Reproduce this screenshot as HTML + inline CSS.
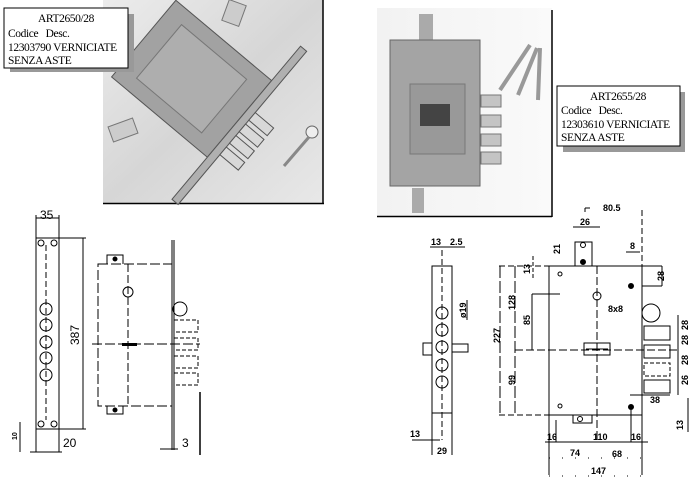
<!DOCTYPE html>
<html><head><meta charset="utf-8"><style>
html,body{margin:0;padding:0;background:#fff;width:699px;height:484px;overflow:hidden}
svg{display:block}
.b{font-family:"Liberation Serif",serif;font-size:11.5px;letter-spacing:-0.4px;fill:#000}
.d{font-family:"Liberation Sans",sans-serif;font-size:9px;font-weight:bold;fill:#000}
.D{font-family:"Liberation Sans",sans-serif;font-size:12px;fill:#000}
</style></head><body>
<svg width="699" height="484" viewBox="0 0 699 484" xmlns="http://www.w3.org/2000/svg">
<defs>
<linearGradient id="g1" x1="0" y1="0" x2="1" y2="1"><stop offset="0" stop-color="#ececec"/><stop offset="0.5" stop-color="#d6d6d6"/><stop offset="1" stop-color="#e8e8e8"/></linearGradient>
<linearGradient id="g2" x1="0" y1="0" x2="1" y2="0"><stop offset="0" stop-color="#f2f2f2"/><stop offset="1" stop-color="#fafafa"/></linearGradient>
</defs>
<!-- left photo -->
<rect x="103" y="0" width="220" height="203" fill="url(#g1)"/>
<line x1="323" y1="0" x2="323" y2="204" stroke="#000" stroke-width="1.5"/>
<line x1="103" y1="203.5" x2="324" y2="203.5" stroke="#000" stroke-width="1.5"/>
<rect x="225" y="2" width="18" height="22" fill="#ccc" stroke="#777" transform="rotate(20 234 13)"/>
<rect x="110" y="122" width="26" height="16" fill="#ccc" stroke="#777" transform="rotate(-20 123 130)"/>
<g transform="translate(205,90) rotate(40)">
<rect x="-80" y="-50" width="125" height="100" fill="#a2a2a2" stroke="#555"/>
<rect x="-60" y="-35" width="85" height="70" fill="#aeaeae" stroke="#777"/>
<rect x="45" y="-95" width="8" height="200" fill="#b0b0b0" stroke="#555"/>
<rect x="53" y="-15" width="24" height="10" fill="#d8d8d8" stroke="#555"/>
<rect x="53" y="0" width="24" height="10" fill="#d8d8d8" stroke="#555"/>
<rect x="53" y="15" width="24" height="10" fill="#d8d8d8" stroke="#555"/>
<rect x="53" y="30" width="24" height="10" fill="#d8d8d8" stroke="#555"/>
</g>
<circle cx="312" cy="132" r="6" fill="#eee" stroke="#666"/>
<line x1="309" y1="137" x2="284" y2="166" stroke="#888" stroke-width="3"/>
<!-- left label -->
<rect x="10" y="14" width="124" height="58" fill="#999"/>
<rect x="4" y="8" width="124" height="60" fill="#fff" stroke="#000"/>
<text class="b" x="38" y="22">ART2650/28</text>
<text class="b" x="8" y="37">Codice&#160;&#160;&#160;Desc.</text>
<text class="b" x="8" y="51">12303790 VERNICIATE</text>
<text class="b" x="8" y="64">SENZA ASTE</text>
<!-- right photo -->
<rect x="377" y="8" width="175" height="208" fill="url(#g2)"/>
<line x1="552" y1="10" x2="552" y2="217" stroke="#000" stroke-width="1.5"/>
<line x1="377" y1="216.5" x2="552" y2="216.5" stroke="#000" stroke-width="1.5"/>
<rect x="419" y="14" width="14" height="28" fill="#aaa"/>
<rect x="412" y="188" width="12" height="25" fill="#aaa"/>
<rect x="390" y="40" width="90" height="146" fill="#a4a4a4" stroke="#666"/>
<rect x="410" y="84" width="55" height="70" fill="#999" stroke="#777"/>
<rect x="420" y="104" width="30" height="22" fill="#444"/>
<rect x="481" y="95" width="20" height="12" fill="#c4c4c4" stroke="#777"/>
<rect x="481" y="115" width="20" height="12" fill="#c4c4c4" stroke="#777"/>
<rect x="481" y="134" width="20" height="12" fill="#c4c4c4" stroke="#777"/>
<rect x="481" y="152" width="20" height="12" fill="#c4c4c4" stroke="#777"/>
<line x1="530" y1="45" x2="500" y2="90" stroke="#999" stroke-width="4"/>
<line x1="537" y1="48" x2="518" y2="95" stroke="#999" stroke-width="4"/>
<line x1="540" y1="48" x2="538" y2="100" stroke="#999" stroke-width="4"/>
<!-- right label -->
<rect x="563" y="92" width="122" height="60" fill="#999"/>
<rect x="557" y="86" width="123" height="60" fill="#fff" stroke="#000"/>
<text class="b" x="590" y="100">ART2655/28</text>
<text class="b" x="561" y="114">Codice&#160;&#160;&#160;Desc.</text>
<text class="b" x="561" y="128">12303610 VERNICIATE</text>
<text class="b" x="561" y="141">SENZA ASTE</text>

<!-- LEFT DRAWING -->
<g fill="none" stroke="#000" stroke-width="1">
<rect x="36" y="238" width="23" height="191"/>
<line x1="36" y1="218" x2="59" y2="218"/>
<line x1="36" y1="215" x2="36" y2="238"/><line x1="59" y1="215" x2="59" y2="238"/>
<line x1="59" y1="238" x2="86" y2="238"/><line x1="59" y1="429" x2="86" y2="429"/>
<line x1="83" y1="238" x2="83" y2="429"/>
<circle cx="46" cy="309" r="6"/><circle cx="46" cy="325" r="6"/><circle cx="46" cy="342" r="6"/><circle cx="46" cy="358" r="6"/><circle cx="46" cy="375" r="6"/>
<line x1="46" y1="245" x2="46" y2="420" stroke-dasharray="6,3"/>
<circle cx="41" cy="243" r="3"/><circle cx="54" cy="243" r="3"/><circle cx="41" cy="424" r="3"/><circle cx="54" cy="424" r="3"/>
<line x1="36" y1="429" x2="36" y2="452"/><line x1="59" y1="429" x2="59" y2="452"/>
<line x1="30" y1="452" x2="62" y2="452"/>
<line x1="20" y1="422" x2="20" y2="452"/>
<rect x="98" y="264" width="74" height="142" stroke-dasharray="10,3"/>
<line x1="172" y1="240" x2="172" y2="450"/><line x1="174" y1="240" x2="174" y2="450"/>
<path d="M107 264 V255 H123 V264"/><path d="M107 406 V414 H123 V406"/>
<circle cx="115" cy="259" r="2" fill="#000"/><circle cx="115" cy="410" r="2" fill="#000"/>
<circle cx="128" cy="292" r="5"/>
<line x1="128" y1="264" x2="128" y2="406" stroke-dasharray="8,3"/>
<line x1="92" y1="344" x2="200" y2="344" stroke-dasharray="10,3"/>
<circle cx="180" cy="309" r="7"/>
<rect x="174" y="320" width="24" height="12" stroke-dasharray="4,2"/>
<rect x="174" y="338" width="24" height="12" stroke-dasharray="4,2"/>
<rect x="174" y="356" width="24" height="12" stroke-dasharray="4,2"/>
<rect x="174" y="373" width="24" height="12" stroke-dasharray="4,2"/>
<line x1="200" y1="392" x2="200" y2="455" stroke-width="1.5"/>
<line x1="160" y1="449" x2="178" y2="449"/>
</g>
<rect x="122" y="343" width="15" height="3" fill="#000"/>
<text class="D" x="40" y="219">35</text>
<text class="D" transform="translate(79,345) rotate(-90)">387</text>
<text class="D" x="63" y="447">20</text>
<text class="D" x="182" y="447">3</text>
<text class="d" style="font-size:7px" transform="translate(17,440) rotate(-90)">10</text>

<!-- RIGHT DRAWING -->
<g fill="none" stroke="#000" stroke-width="1">
<rect x="432" y="266" width="20" height="147"/>
<circle cx="442" cy="313" r="6"/><circle cx="442" cy="330" r="6"/><circle cx="442" cy="347" r="6"/><circle cx="442" cy="365" r="6"/><circle cx="442" cy="382" r="6"/>
<rect x="423" y="343" width="9" height="12"/><rect x="452" y="344" width="16" height="8"/>
<line x1="442" y1="250" x2="442" y2="440" stroke-dasharray="6,3"/>
<line x1="430" y1="247" x2="465" y2="247"/>
<line x1="467" y1="300" x2="467" y2="320"/>
<line x1="432" y1="413" x2="432" y2="455"/><line x1="452" y1="413" x2="452" y2="455"/>
<line x1="412" y1="440" x2="440" y2="440"/>
<rect x="549" y="266" width="93" height="149"/>
<path d="M575 266 V242 H592 V266"/>
<path d="M573 415 V423 H592 V415"/>
<circle cx="583" cy="262" r="2.5" fill="#000"/><circle cx="583" cy="245" r="2.5"/>
<circle cx="580" cy="419" r="2.5"/>
<circle cx="560" cy="274" r="2"/><circle cx="560" cy="406" r="2"/>
<circle cx="631" cy="286" r="2.5" fill="#000"/><circle cx="631" cy="407" r="2.5" fill="#000"/>
<circle cx="597" cy="296" r="4"/>
<rect x="584" y="343" width="26" height="12"/><line x1="586" y1="349" x2="608" y2="349"/>
<circle cx="651" cy="313" r="9"/>
<rect x="644" y="326" width="26" height="14"/>
<rect x="644" y="345" width="26" height="13"/>
<rect x="644" y="363" width="26" height="13" stroke-dasharray="4,2"/>
<rect x="644" y="380" width="26" height="13"/>
<line x1="597" y1="266" x2="597" y2="440" stroke-dasharray="8,3"/>
<line x1="515" y1="350" x2="680" y2="350" stroke-dasharray="8,3"/>
<line x1="532" y1="294" x2="560" y2="294"/><line x1="532" y1="294" x2="532" y2="350"/>
<line x1="499" y1="266" x2="549" y2="266" stroke-dasharray="6,3"/>
<line x1="499" y1="415" x2="549" y2="415" stroke-dasharray="6,3"/>
<line x1="500" y1="266" x2="500" y2="415" stroke-dasharray="12,3"/>
<line x1="515" y1="266" x2="515" y2="415" stroke-dasharray="12,3"/>
<line x1="533" y1="256" x2="533" y2="280" stroke-dasharray="4,2"/>
<line x1="585" y1="208" x2="585" y2="212"/><line x1="585" y1="208" x2="590" y2="208"/>
<line x1="642" y1="210" x2="642" y2="266" stroke-dasharray="6,3"/>
<line x1="573" y1="227" x2="600" y2="227"/>
<line x1="626" y1="252" x2="640" y2="252"/>
<line x1="642" y1="266" x2="662" y2="266"/><line x1="642" y1="286" x2="662" y2="286"/><line x1="662" y1="266" x2="662" y2="286"/>
<line x1="678" y1="315" x2="678" y2="395"/>
<line x1="688" y1="398" x2="688" y2="432"/>
<line x1="549" y1="415" x2="549" y2="475"/><line x1="642" y1="415" x2="642" y2="475"/>
<line x1="545" y1="442" x2="648" y2="442"/>
<line x1="556" y1="420" x2="556" y2="442"/><line x1="631" y1="410" x2="631" y2="442"/>
<line x1="549" y1="458" x2="642" y2="458" stroke-dasharray="1,12"/>
<line x1="549" y1="476" x2="642" y2="476" stroke-dasharray="1,12"/>
<line x1="630" y1="395" x2="670" y2="395"/>
</g>
<text class="d" x="603" y="211">80.5</text>
<text class="d" x="580" y="225">26</text>
<text class="d" transform="translate(560,254) rotate(-90)">21</text>
<text class="d" x="630" y="249">8</text>
<text class="d" transform="translate(664,281) rotate(-90)">28</text>
<text class="d" transform="translate(530,274) rotate(-90)">13</text>
<text class="d" transform="translate(515,310) rotate(-90)">128</text>
<text class="d" transform="translate(530,325) rotate(-90)">85</text>
<text class="d" transform="translate(500,343) rotate(-90)">227</text>
<text class="d" transform="translate(515,385) rotate(-90)">99</text>
<text class="d" x="608" y="312">8x8</text>
<text class="d" transform="translate(688,330) rotate(-90)">28</text>
<text class="d" transform="translate(688,345) rotate(-90)">28</text>
<text class="d" transform="translate(688,365) rotate(-90)">28</text>
<text class="d" transform="translate(688,385) rotate(-90)">26</text>
<text class="d" x="650" y="403">38</text>
<text class="d" transform="translate(683,430) rotate(-90)">13</text>
<text class="d" x="547" y="440">16</text>
<text class="d" x="593" y="440">110</text>
<text class="d" x="631" y="440">16</text>
<text class="d" x="570" y="456">74</text>
<text class="d" x="612" y="457">68</text>
<text class="d" x="591" y="474">147</text>
<text class="d" x="431" y="245">13</text>
<text class="d" x="450" y="245">2.5</text>
<text class="d" transform="translate(466,318) rotate(-90)">ø19</text>
<text class="d" x="410" y="437">13</text>
<text class="d" x="437" y="454">29</text>
</svg>
</body></html>
